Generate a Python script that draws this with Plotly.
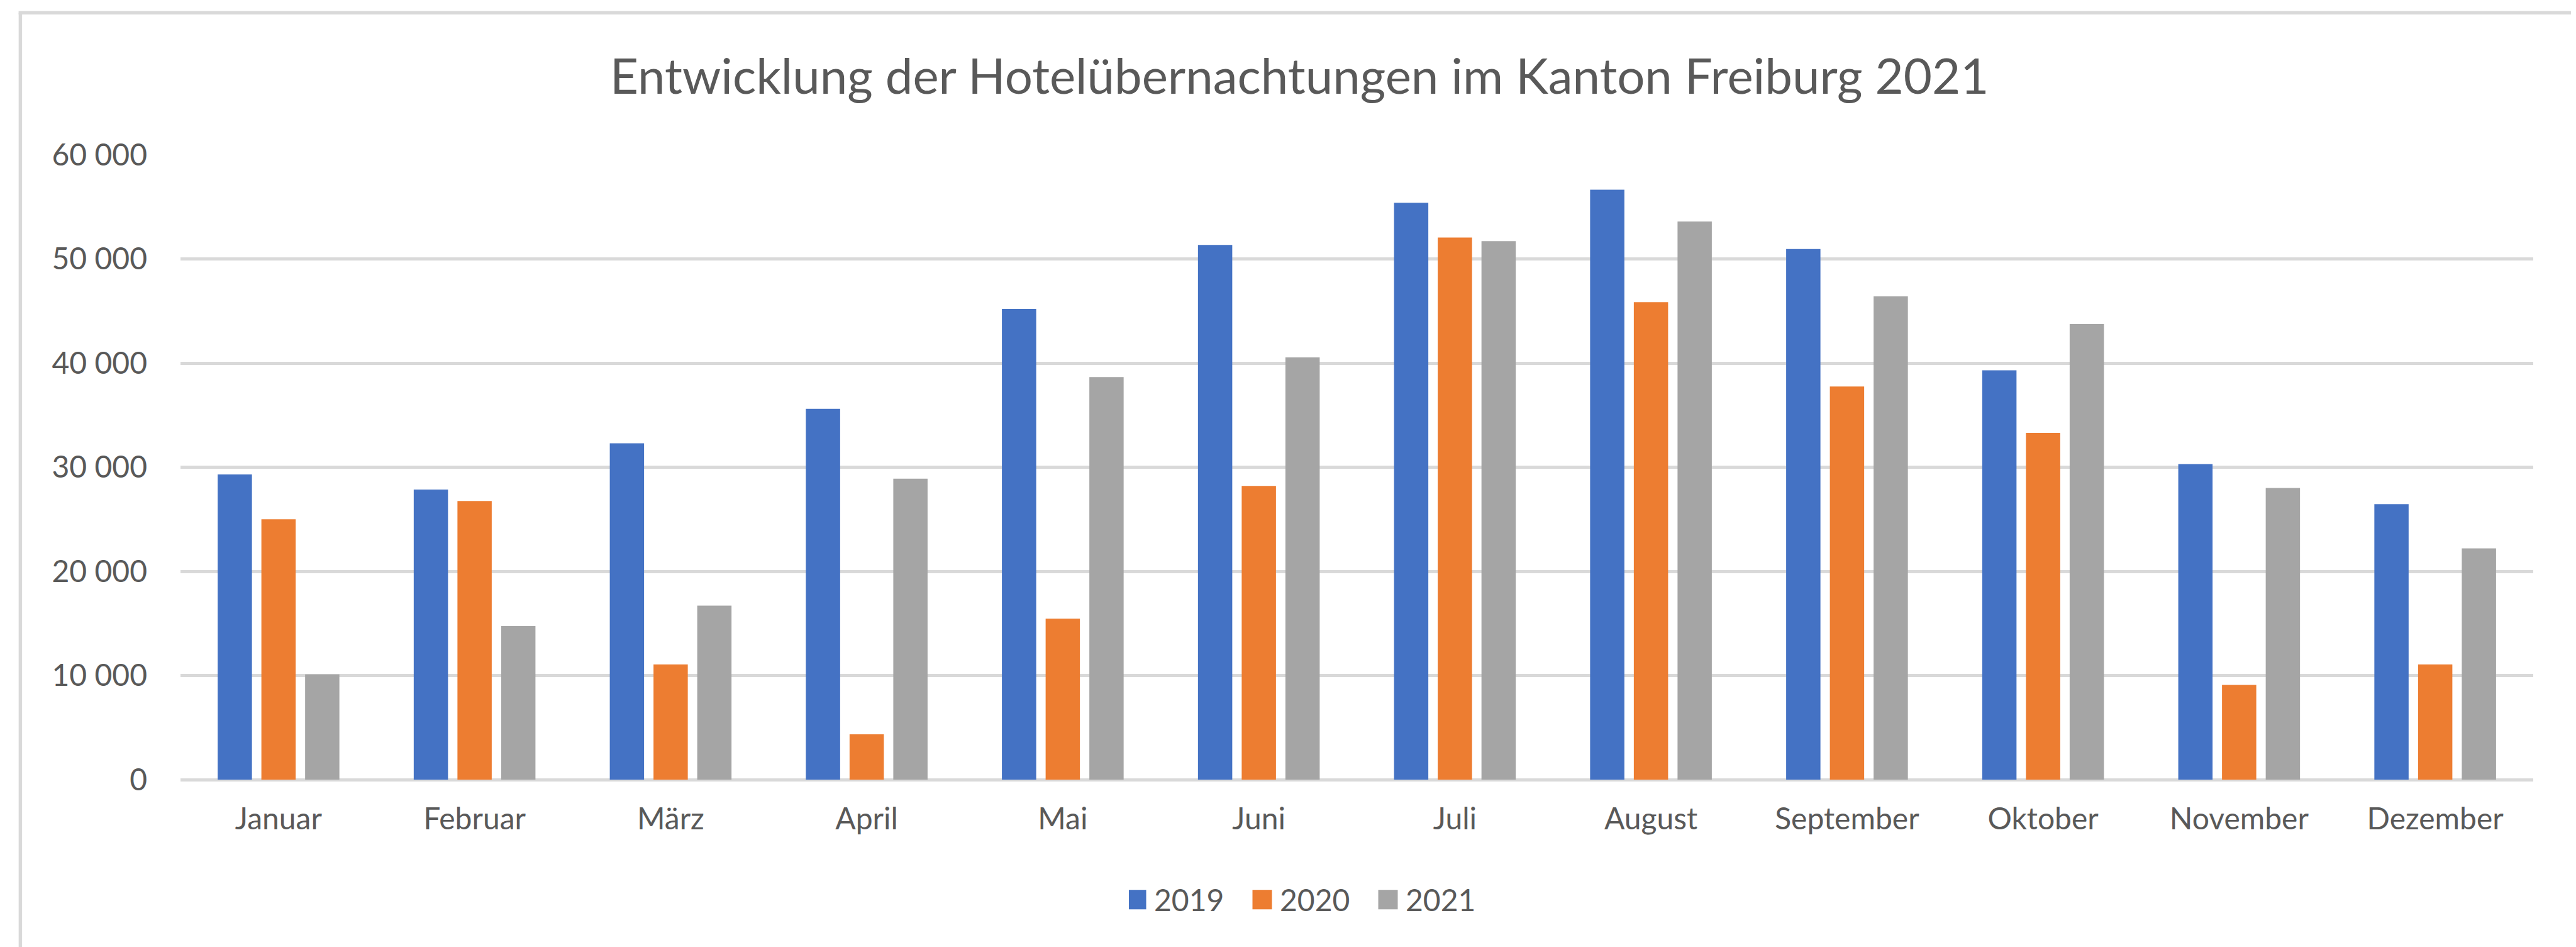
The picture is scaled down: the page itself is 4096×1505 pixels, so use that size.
import plotly.graph_objects as go

months = ["Januar", "Februar", "März", "April", "Mai", "Juni", "Juli",
          "August", "September", "Oktober", "November", "Dezember"]
v2019 = [29300, 27850, 32300, 35600, 45200, 51350, 55400, 56650, 50950, 39300, 30300, 26450]
v2020 = [25000, 26750, 11050, 4350, 15450, 28200, 52050, 45850, 37750, 33300, 9100, 11050]
v2021 = [10100, 14750, 16700, 28900, 38650, 40550, 51700, 53600, 46400, 43750, 28000, 22200]
series = [("2019", v2019, "#4472C4"), ("2020", v2020, "#ED7D31"), ("2021", v2021, "#A5A5A5")]

W, H = 4096, 1505
L, R, T, B = 279, 76, 238, 274
PW, PH = W - L - R, H - T - B
TXT = "#595959"
GRID = "#D9D9D9"
FONT = "Lato"

fig = go.Figure()
for name, vals, col in series:
    fig.add_trace(go.Bar(x=months, y=vals, name=name, marker=dict(color=col, line=dict(width=0))))

def px_x(p):
    return (p - L) / PW

def px_y(p):
    return (H - B - p) / PH

shapes = [
    dict(type="line", xref="paper", yref="paper", x0=px_x(24.4), x1=px_x(24.4), y0=px_y(12.2), y1=px_y(1530),
         line=dict(color=GRID, width=5.5)),
    dict(type="line", xref="paper", yref="paper", x0=px_x(21.6), x1=px_x(4089.8), y0=px_y(12.2), y1=px_y(12.2),
         line=dict(color=GRID, width=5.5)),
    dict(type="line", xref="paper", yref="paper", x0=px_x(4087), x1=px_x(4087), y0=px_y(12.2), y1=px_y(1530),
         line=dict(color=GRID, width=5.5)),
]

fig.update_layout(
    width=W, height=H,
    margin=dict(l=L, r=R, t=T, b=B, autoexpand=False),
    paper_bgcolor="white", plot_bgcolor="white",
    separators=", ",
    barmode="group", bargap=0.331, bargroupgap=0.216,
    title=dict(text="Entwicklung der Hotelübernachtungen im Kanton Freiburg 2021",
               x=0.5025, xref="container", xanchor="center",
               y=1 - 114 / H, yref="container", yanchor="middle",
               font=dict(family=FONT, size=78, color=TXT, weight=400)),
    font=dict(family=FONT, color=TXT, size=48),
    xaxis=dict(showgrid=False, showline=False, zeroline=False, ticks="",
               tickfont=dict(family=FONT, size=48, color=TXT), ticklabelstandoff=30),
    yaxis=dict(range=[0, 60000], dtick=10000, tickformat=",", showgrid=True, gridcolor=GRID, gridwidth=5,
               zeroline=True, zerolinecolor=GRID, zerolinewidth=5, showline=False, ticks="",
               tickfont=dict(family=FONT, size=48, color=TXT), ticklabelstandoff=52),
    legend=dict(orientation="h", xref="container", yref="container", x=1787 / W, xanchor="left",
                y=1 - 1422 / H, yanchor="middle", font=dict(family=FONT, size=48, color=TXT),
                entrywidth=155, entrywidthmode="pixels", traceorder="normal"),
    shapes=shapes,
    showlegend=True,
)

post = """
var gd = document.getElementById('{plot_id}');
function fixLegend(){
  gd.querySelectorAll('.legendpoints path').forEach(function(p){
    p.setAttribute('d','M7.5,15.5H-23.5V-15.5H7.5Z');
  });
}
fixLegend(); setTimeout(fixLegend, 50); setTimeout(fixLegend, 400);
if (gd.on) { gd.on('plotly_afterplot', fixLegend); }
"""

fig.write_html("out.html", post_script=post)
